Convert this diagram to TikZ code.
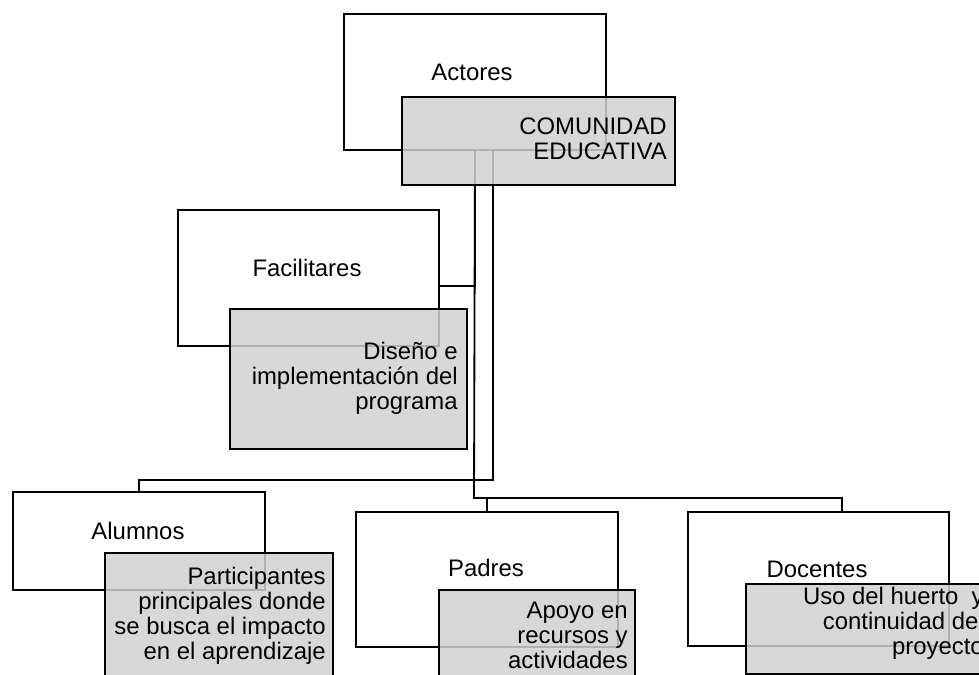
\documentclass[tikz,border=0pt]{standalone}
\usepackage{fontspec}
\setmainfont{Liberation Sans}

\tikzset{
    whitebox/.style={draw, line width=1.4pt, fill=white, inner sep=0pt, anchor=north west},
    graybox/.style={draw, line width=1.4pt, fill=black!18, fill opacity=0.85, inner sep=0pt, anchor=north west},
    rolename/.style={font=\fontsize{17}{17.8}\selectfont, inner sep=0pt},
    roletext/.style={font=\fontsize{17}{17.8}\selectfont, inner sep=0pt, align=right, anchor=east},
    link/.style={line width=1.3pt}
}

\begin{document}
\begin{tikzpicture}[x=0.025cm, y=-0.025cm]
    % Fix the frame (pixels of the original)
    \useasboundingbox (0, 0) rectangle (979, 675);
    \clip (0, 0) rectangle (979, 675);

    % Draw the white boxes
    \node[whitebox, minimum width={262*0.025cm}, minimum height={136*0.025cm}] (actores) at (343, 13) {};
    \node[whitebox, minimum width={261*0.025cm}, minimum height={136*0.025cm}] (facil) at (177, 209) {};
    \node[whitebox, minimum width={252*0.025cm}, minimum height={98*0.025cm}] (alum) at (12, 491) {};
    \node[whitebox, minimum width={262*0.025cm}, minimum height={135*0.025cm}] (padres) at (355, 511) {};
    \node[whitebox, minimum width={261*0.025cm}, minimum height={134*0.025cm}] (doc) at (687, 511) {};

    % Draw the connectors
    \coordinate (split) at (474, 498);
    \draw[link] (actores.south) |- ([yshift=-0.2cm]facil.east);
    \draw[link] (actores.south) -- (split) -| (padres.north);
    \draw[link] (split) -| ([xshift=0.59cm]doc.north);
    \draw[link] ([xshift=0.45cm]actores.south) -- ++(0, 329) -| (alum.north);

    % Draw the gray boxes on top
    \node[graybox, minimum width={273*0.025cm}, minimum height={88*0.025cm}] (comun) at (401, 96) {};
    \node[graybox, minimum width={237*0.025cm}, minimum height={140*0.025cm}] (diseno) at (229, 308) {};
    \node[graybox, minimum width={228*0.025cm}, minimum height={140*0.025cm}] (partic) at (104, 552) {};
    \node[graybox, minimum width={196*0.025cm}, minimum height={110*0.025cm}] (apoyo) at (438, 589) {};
    \node[graybox, minimum width={260*0.025cm}, minimum height={90*0.025cm}] (uso) at (745, 583) {};

    % Names of the actors
    \node[rolename] (tactores) at (472, 72) {Actores};
    \node[rolename] (tfacil) at (307, 268) {Facilitares};
    \node[rolename] (talum) at (138, 531) {Alumnos};
    \node[rolename] (tpadres) at (486, 568) {Padres};
    \node[rolename] (tdoc) at (817, 569) {Docentes};

    % Their roles
    \node[roletext] (tcomun) at (667, 139) {COMUNIDAD\\EDUCATIVA};
    \node[roletext] (tdiseno) at (458, 378) {Diseño e\\implementación del\\programa};
    \node[roletext] (tpartic) at (326, 616) {Participantes\\principales donde\\se busca el impacto\\en el aprendizaje};
    \node[roletext] (tapoyo) at (628, 635) {Apoyo en\\recursos y\\actividades};
    \node[roletext] (tuso) at (984, 623) {Uso del huerto~ y\\continuidad del\\proyecto};
\end{tikzpicture}
\end{document}
